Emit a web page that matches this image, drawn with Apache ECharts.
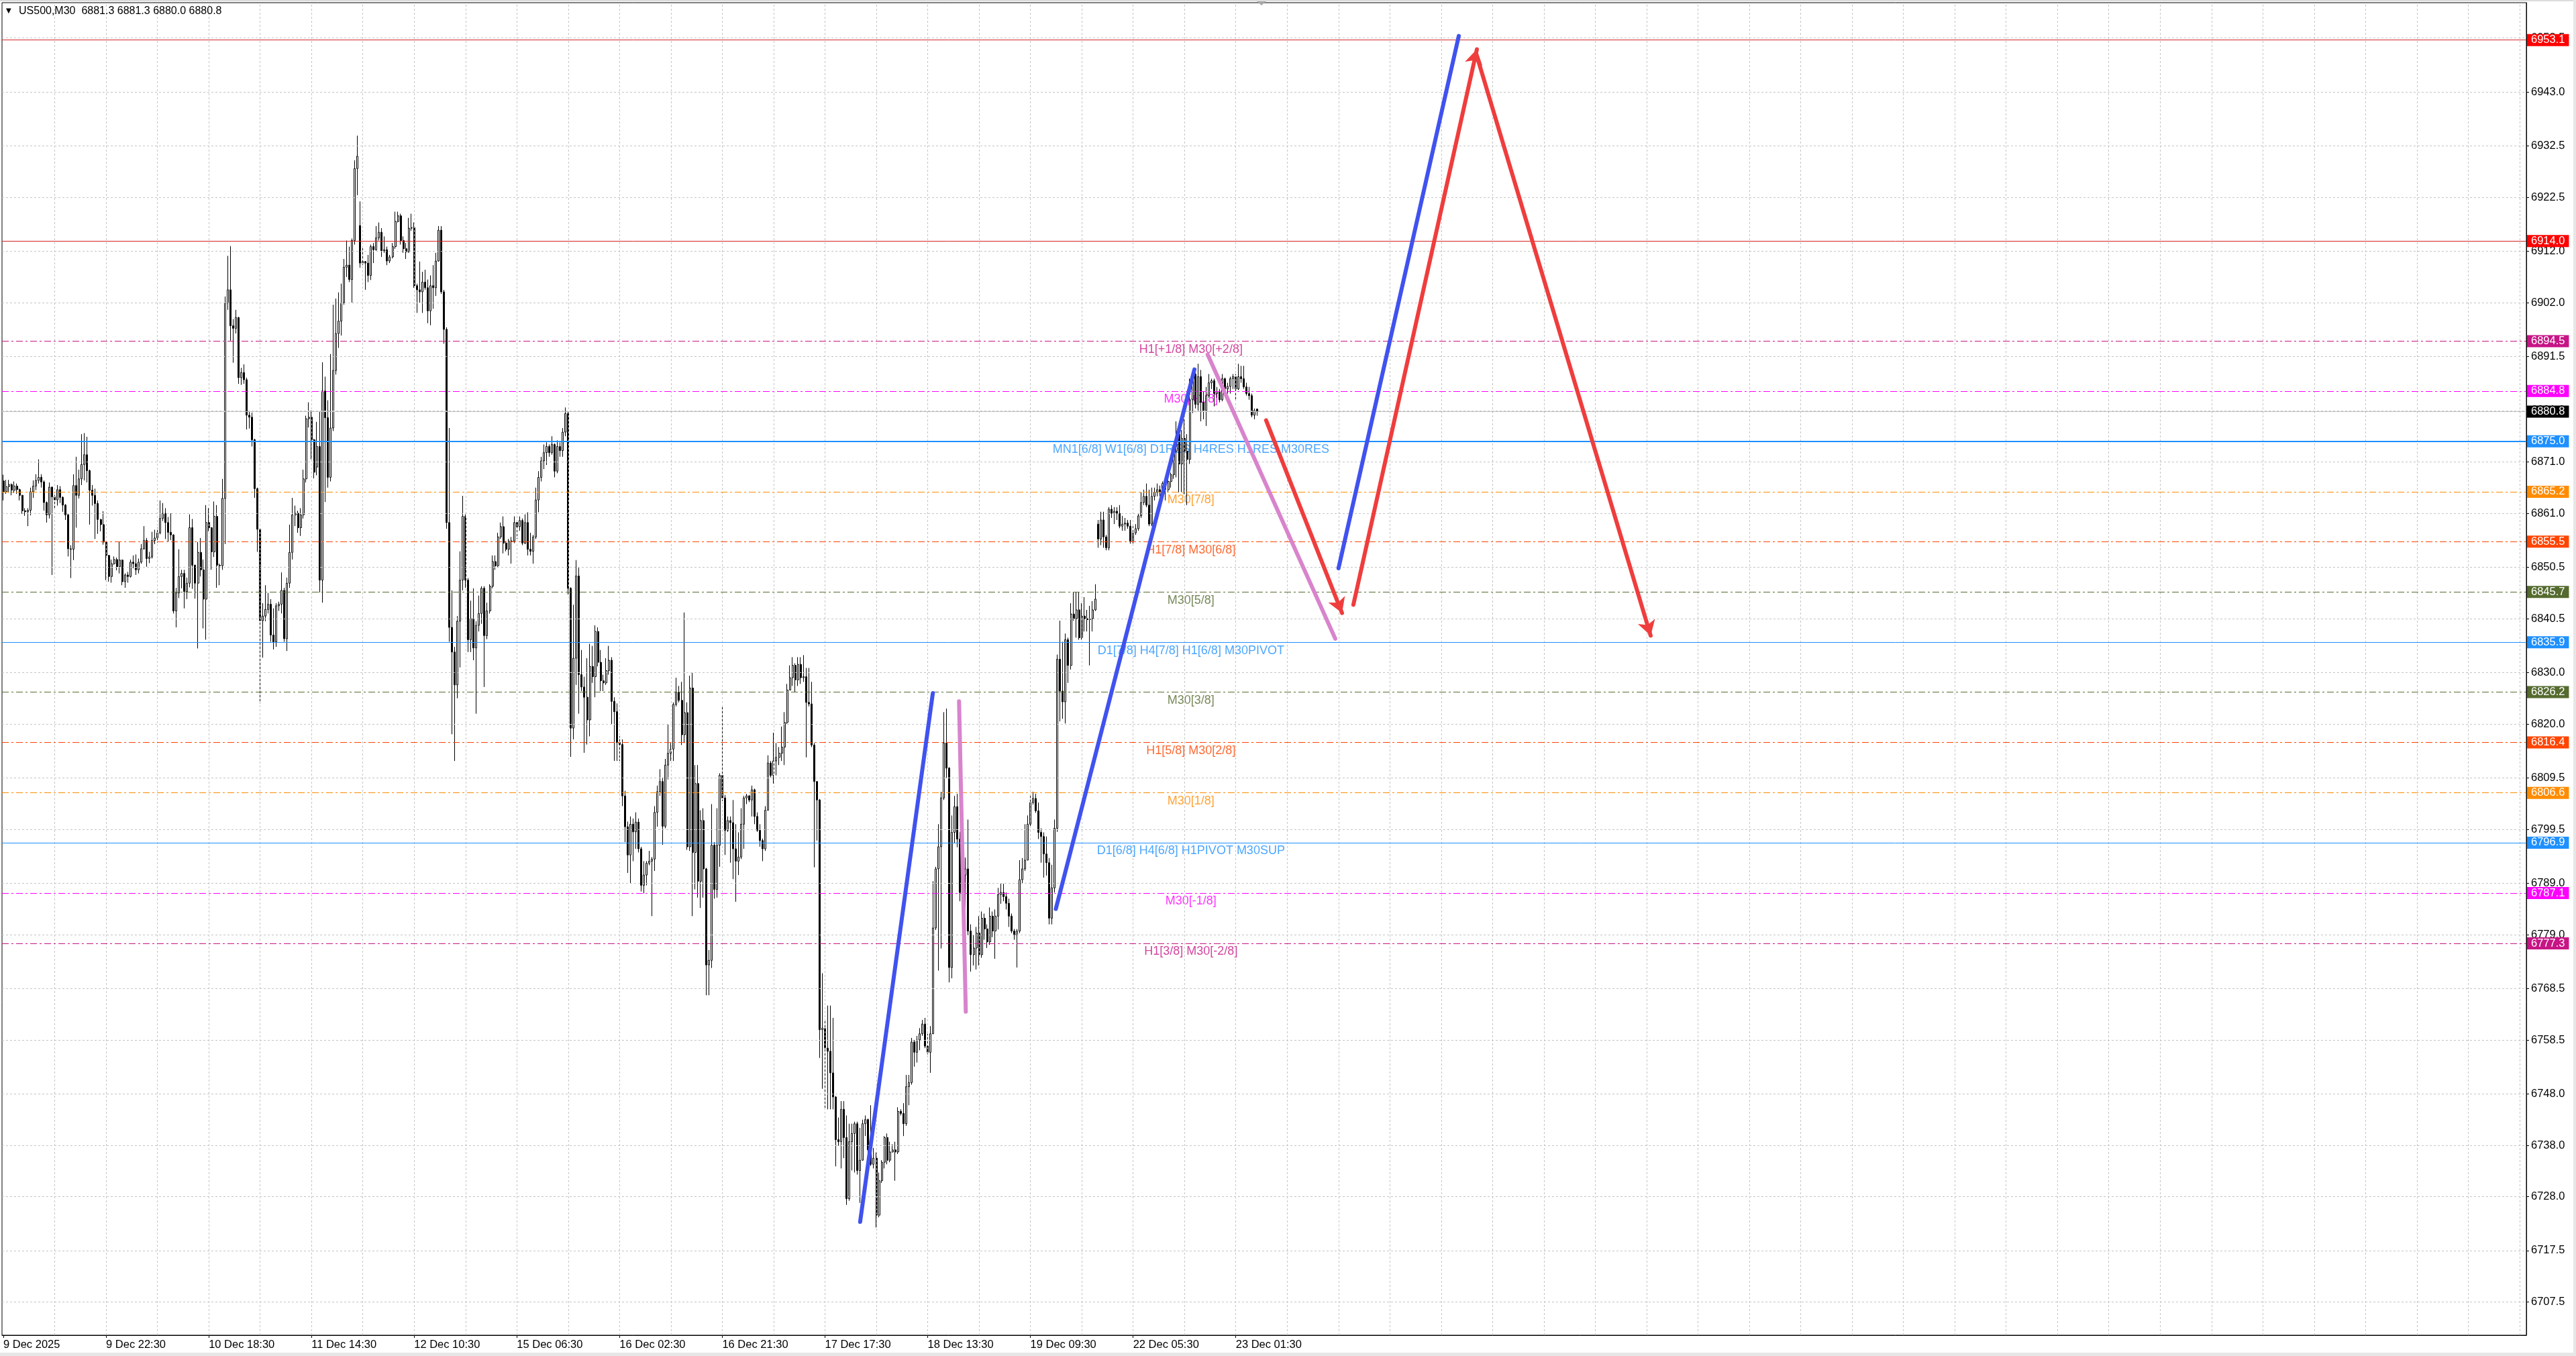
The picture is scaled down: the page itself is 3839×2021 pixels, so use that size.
<!DOCTYPE html>
<html>
<head>
<meta charset="utf-8">
<script src="https://cdn.jsdelivr.net/npm/echarts@6/dist/echarts.min.js"></script>
<style>
html,body{margin:0;padding:0;background:#fff;}
#chart{width:3839px;height:2021px;}
</style>
</head>
<body>
<div id="chart"></div>
<script>
// ---------------- DATA ----------------
const symbolTitle = 'US500,M30  6881.3 6881.3 6880.0 6880.8';

const opens = [
6867.3,6865.2,6866.2,6866.6,6865.5,6866.3,6865.6,6864.5,6861.5,6861.3,
6861.6,6865.2,6866.3,6867.4,6868.0,6867.1,6863.1,6860.7,6866.1,6864.2,
6863.6,6865.6,6864.1,6862.6,6860.7,6854.1,6854.0,6866.4,6864.5,6867.7,
6870.5,6872.4,6869.3,6865.5,6864.5,6862.9,6859.8,6858.8,6855.4,6852.8,
6848.7,6851.2,6852.0,6850.6,6851.9,6847.7,6849.0,6848.7,6851.5,6851.2,
6850.0,6851.5,6854.1,6855.7,6852.2,6852.5,6855.7,6856.2,6857.2,6860.0,
6861.0,6859.2,6857.3,6856.8,6842.0,6845.5,6848.7,6849.3,6845.8,6847.4,
6858.2,6850.9,6847.4,6853.4,6850.0,6844.3,6859.2,6858.2,6853.5,6860.4,
6850.9,6850.8,6863.9,6901.9,6904.5,6897.5,6897.0,6899.1,6887.4,6888.4,
6887.0,6880.1,6879.7,6875.3,6865.8,6857.9,6840.1,6841.0,6842.3,6843.3,
6837.3,6836.0,6843.0,6843.3,6846.0,6836.6,6847.4,6853.4,6860.7,6861.0,
6858.2,6860.7,6867.7,6879.4,6879.7,6875.3,6870.0,6874.0,6848.0,6884.8,
6879.6,6868.0,6877.6,6888.8,6896.0,6898.4,6902.0,6908.9,6909.3,6906.5,
6914.1,6928.1,6917.0,6909.7,6910.0,6909.7,6907.3,6912.9,6912.3,6914.6,
6915.7,6912.1,6912.3,6910.1,6910.9,6912.9,6917.8,6918.9,6914.1,6912.5,
6911.9,6916.5,6916.6,6905.3,6904.5,6904.1,6906.0,6904.9,6900.4,6905.3,
6904.9,6910.1,6916.1,6904.1,6896.8,6859.2,6838.8,6834.0,6827.6,6840.0,
6848.0,6860.4,6848.0,6836.4,6840.5,6834.8,6839.2,6841.5,6846.4,6837.2,
6842.0,6846.8,6851.6,6850.8,6856.4,6858.4,6855.2,6854.0,6855.6,6855.6,
6859.2,6858.4,6859.6,6855.2,6859.2,6854.0,6853.6,6856.4,6863.6,6868.0,
6871.2,6872.8,6874.0,6872.8,6874.4,6869.2,6874.0,6873.2,6876.8,6880.4,
6846.4,6819.2,6832.8,6848.8,6829.6,6827.2,6825.2,6820.8,6831.2,6829.2,
6838.0,6832.0,6828.4,6828.0,6830.4,6832.4,6824.4,6822.4,6816.4,6816.0,
6806.0,6800.0,6794.5,6800.5,6799.0,6800.9,6795.7,6788.6,6790.6,6792.9,
6793.3,6793.7,6802.8,6806.8,6808.8,6800.1,6812.0,6814.3,6815.1,6823.8,
6826.2,6824.6,6817.9,6822.2,6796.1,6827.0,6795.0,6808.4,6789.4,6801.2,
6791.8,6773.1,6774.0,6796.4,6787.8,6796.4,6810.0,6805.6,6799.3,6801.2,
6800.8,6795.7,6793.3,6794.1,6800.5,6805.6,6806.0,6805.2,6807.2,6802.0,
6799.3,6797.3,6795.7,6803.2,6812.4,6810.0,6812.8,6813.5,6814.3,6815.5,
6820.3,6826.6,6829.0,6831.4,6828.6,6831.6,6829.0,6829.2,6824.2,6823.9,
6815.9,6808.8,6805.2,6760.5,6760.8,6756.9,6756.3,6752.1,6747.4,6739.1,
6738.7,6745.0,6739.5,6727.6,6738.7,6740.3,6742.2,6733.1,6735.1,6742.2,
6743.0,6737.1,6734.3,6735.5,6724.4,6731.1,6734.7,6739.5,6735.1,6736.7,
6737.1,6736.7,6744.6,6744.2,6742.2,6749.4,6750.2,6758.1,6756.1,6758.5,
6759.7,6761.6,6757.3,6756.1,6759.7,6780.3,6791.8,6796.1,6805.6,6816.3,
6811.4,6772.6,6798.9,6803.9,6797.6,6787.2,6790.6,6791.8,6779.7,6775.1,
6776.4,6779.3,6775.1,6782.2,6780.1,6777.6,6782.6,6779.7,6782.6,6786.8,
6787.2,6786.4,6785.1,6782.6,6779.7,6778.9,6779.7,6789.7,6791.8,6793.5,
6800.5,6804.7,6805.5,6803.1,6798.9,6798.1,6794.7,6793.0,6782.2,6788.1,
6799.7,6832.6,6826.4,6824.3,6836.4,6831.4,6841.4,6840.5,6842.2,6836.8,
6841.0,6840.5,6840.3,6840.5,6842.2,6858.9,6856.0,6859.7,6856.4,6854.3,
6861.8,6861.0,6861.4,6861.0,6858.5,6858.9,6859.1,6858.5,6855.6,6857.2,
6858.0,6860.5,6863.1,6864.3,6862.6,6858.9,6864.3,6865.1,6865.6,6865.1,
6866.8,6865.6,6867.2,6868.5,6873.1,6876.4,6870.6,6875.6,6873.1,6871.5,
6883.1,6888.1,6882.2,6887.6,6882.6,6881.0,6883.9,6886.4,6886.8,6884.3,
6884.7,6883.1,6887.2,6885.2,6885.7,6887.2,6887.6,6885.2,6887.6,6887.2,
6885.6,6884.3,6883.9,6880.1,6881.3
];
const highs = [
6868.5,6867.5,6867.5,6866.8,6867.2,6866.8,6865.8,6864.6,6862.0,6862.0,
6866.0,6867.4,6868.6,6871.5,6868.6,6867.4,6863.3,6867.0,6866.2,6864.6,
6866.5,6866.3,6864.3,6862.8,6860.9,6854.8,6868.6,6872.0,6869.5,6876.4,
6876.6,6875.9,6869.5,6866.5,6865.8,6863.5,6859.9,6861.4,6855.5,6852.9,
6852.0,6852.6,6852.4,6855.4,6852.0,6849.3,6849.6,6852.0,6852.8,6853.0,
6852.2,6855.0,6858.5,6856.2,6853.5,6857.4,6857.8,6858.2,6863.5,6863.0,
6862.0,6860.3,6861.0,6856.9,6846.5,6854.0,6850.0,6850.0,6848.5,6860.8,
6859.9,6851.0,6855.4,6856.2,6852.0,6862.6,6862.0,6858.3,6863.3,6862.6,
6851.2,6867.7,6903.2,6911.1,6913.0,6898.8,6900.6,6899.2,6889.3,6890.0,
6887.4,6881.0,6880.6,6875.5,6866.0,6858.0,6843.5,6847.0,6845.5,6844.3,
6842.5,6843.5,6843.8,6849.5,6846.5,6848.5,6858.8,6864.0,6862.5,6861.5,
6862.0,6869.5,6880.0,6882.6,6881.0,6875.5,6878.8,6880.8,6890.4,6887.6,
6883.0,6892.0,6901.6,6902.8,6904.0,6905.7,6910.5,6914.1,6912.9,6914.5,
6929.7,6934.5,6921.7,6912.9,6910.1,6911.3,6913.3,6913.6,6916.9,6917.6,
6916.5,6914.9,6912.9,6911.3,6913.6,6919.7,6919.7,6919.3,6914.9,6913.6,
6918.5,6919.3,6917.6,6905.7,6910.0,6908.0,6908.4,6906.5,6907.3,6909.3,
6911.7,6916.9,6916.9,6904.5,6897.2,6877.6,6846.0,6835.0,6841.0,6853.6,
6864.4,6860.8,6848.4,6844.0,6846.4,6840.0,6845.0,6846.8,6846.8,6843.6,
6847.2,6852.8,6852.8,6857.2,6859.2,6860.4,6855.6,6856.0,6856.4,6860.4,
6859.6,6860.4,6860.0,6860.8,6861.2,6857.2,6856.8,6866.0,6869.2,6872.0,
6874.4,6874.8,6874.4,6876.0,6874.6,6875.2,6874.8,6877.6,6881.6,6880.8,
6846.6,6843.2,6851.9,6850.4,6834.4,6829.2,6832.8,6835.6,6835.2,6839.2,
6838.8,6834.4,6829.6,6832.8,6835.2,6833.0,6825.2,6824.0,6817.6,6817.0,
6807.0,6801.0,6802.0,6801.6,6802.8,6801.6,6796.1,6793.3,6793.3,6795.3,
6794.1,6804.0,6808.0,6811.2,6809.6,6813.2,6819.9,6816.3,6824.2,6829.0,
6827.4,6828.2,6841.7,6824.2,6829.4,6830.0,6812.0,6812.0,6803.2,6803.6,
6792.0,6776.0,6804.4,6797.0,6803.6,6810.4,6823.4,6806.2,6802.0,6802.0,
6805.2,6800.5,6798.9,6803.6,6806.0,6806.4,6806.2,6808.0,6807.4,6802.8,
6800.5,6797.7,6804.0,6813.9,6812.8,6818.3,6816.3,6815.5,6819.5,6822.3,
6827.8,6831.4,6833.0,6831.8,6833.0,6833.0,6833.4,6830.9,6830.9,6828.2,
6816.3,6808.9,6805.4,6771.5,6762.4,6765.2,6765.2,6762.8,6747.6,6743.4,
6746.6,6746.6,6743.8,6742.2,6742.2,6742.6,6742.6,6741.4,6743.0,6743.8,
6743.2,6745.8,6737.5,6736.6,6732.7,6735.1,6739.8,6740.3,6738.7,6738.2,
6738.7,6745.4,6745.0,6746.2,6751.7,6751.7,6758.9,6758.5,6759.3,6760.8,
6762.4,6762.8,6759.7,6761.2,6789.4,6792.2,6800.5,6806.8,6822.3,6823.0,
6811.6,6802.2,6806.0,6806.4,6799.0,6796.0,6794.0,6801.4,6781.0,6778.9,
6780.5,6782.6,6783.5,6783.1,6781.0,6784.3,6783.5,6783.9,6788.1,6788.9,
6788.9,6787.2,6786.0,6783.1,6780.1,6780.1,6793.5,6793.9,6800.5,6802.2,
6806.0,6806.8,6806.4,6804.7,6799.7,6798.9,6798.1,6793.9,6792.6,6801.4,
6833.5,6840.1,6836.0,6837.6,6836.8,6843.5,6845.6,6845.6,6845.6,6843.5,
6844.7,6842.2,6843.0,6843.9,6847.2,6859.7,6861.3,6861.3,6856.8,6862.2,
6862.6,6862.2,6862.2,6862.6,6860.5,6860.1,6859.7,6859.7,6858.5,6858.9,
6860.9,6865.1,6865.6,6866.8,6865.6,6866.0,6866.0,6866.8,6866.4,6867.2,
6867.2,6868.5,6868.9,6873.9,6878.9,6876.8,6877.2,6879.3,6876.4,6887.2,
6888.5,6888.5,6890.1,6888.9,6884.7,6885.6,6888.1,6887.2,6887.2,6885.6,
6885.2,6888.1,6887.4,6886.4,6887.6,6888.1,6888.1,6890.1,6889.7,6889.7,
6886.4,6885.6,6884.3,6881.4,6881.3
];
const lows = [
6863.5,6864.8,6865.0,6864.5,6865.0,6864.8,6863.5,6860.9,6860.5,6858.5,
6860.6,6864.0,6865.5,6866.8,6866.0,6861.5,6859.2,6860.0,6849.0,6861.9,
6862.5,6863.0,6861.3,6859.7,6852.6,6848.4,6851.9,6858.2,6863.9,6866.5,
6867.4,6867.0,6858.8,6862.5,6856.0,6857.0,6857.5,6854.9,6848.0,6847.7,
6847.5,6851.0,6849.9,6849.3,6847.0,6846.5,6847.5,6848.5,6850.3,6849.0,
6849.3,6851.2,6853.9,6850.6,6851.3,6852.2,6855.0,6855.3,6856.9,6859.5,
6856.0,6855.4,6855.8,6841.5,6838.8,6844.5,6846.4,6842.5,6844.3,6846.6,
6846.3,6844.4,6834.7,6848.7,6838.6,6836.4,6857.5,6850.0,6852.5,6846.5,
6847.0,6850.0,6855.0,6900.6,6894.6,6890.3,6896.0,6886.2,6886.0,6886.2,
6877.3,6877.5,6874.0,6864.0,6853.5,6824.0,6832.9,6840.0,6841.5,6836.0,
6834.5,6835.0,6842.0,6841.5,6836.0,6834.2,6846.5,6852.0,6858.5,6857.2,
6856.6,6860.0,6867.0,6877.7,6871.5,6867.8,6868.4,6845.6,6843.6,6863.2,
6866.0,6867.2,6877.0,6888.0,6893.2,6895.6,6901.6,6907.0,6906.0,6902.0,
6913.3,6922.9,6908.8,6909.3,6904.5,6906.0,6906.4,6909.7,6912.1,6914.1,
6910.9,6911.7,6909.3,6909.7,6910.6,6912.5,6917.6,6913.3,6911.7,6910.5,
6911.7,6916.0,6904.9,6900.0,6902.0,6900.0,6904.5,6898.0,6897.6,6900.8,
6903.3,6910.0,6903.7,6894.0,6858.0,6836.0,6818.0,6812.8,6825.0,6831.0,
6846.0,6846.5,6834.0,6834.0,6832.4,6822.0,6838.0,6839.5,6827.2,6836.5,
6841.5,6846.4,6850.0,6850.4,6856.0,6853.2,6853.6,6852.8,6851.2,6855.2,
6856.0,6857.6,6854.8,6855.0,6852.8,6852.8,6851.2,6856.0,6861.2,6867.2,
6869.6,6870.4,6872.0,6872.4,6868.0,6868.8,6872.0,6872.0,6876.0,6845.2,
6813.6,6817.0,6827.6,6822.0,6826.4,6814.4,6816.0,6817.6,6828.0,6825.2,
6831.2,6826.4,6826.4,6827.6,6829.6,6820.0,6812.8,6812.8,6812.8,6804.0,
6797.0,6791.0,6789.0,6793.3,6795.7,6795.0,6787.4,6787.0,6788.6,6792.5,
6782.6,6791.4,6800.0,6806.0,6796.5,6799.7,6809.2,6812.8,6812.8,6823.4,
6824.2,6815.9,6816.3,6795.5,6795.3,6782.6,6787.8,6786.2,6784.2,6786.2,
6767.2,6767.2,6772.5,6786.0,6786.2,6792.2,6805.0,6794.5,6799.0,6793.0,
6789.8,6785.4,6790.6,6793.7,6795.7,6804.4,6804.8,6802.0,6800.5,6799.0,
6796.1,6793.3,6795.3,6803.2,6809.6,6808.4,6810.0,6812.0,6812.8,6812.0,
6820.0,6826.6,6827.4,6826.2,6827.4,6827.8,6828.2,6813.5,6823.4,6815.5,
6792.1,6797.3,6755.0,6749.0,6745.0,6745.0,6745.0,6745.0,6733.9,6737.9,
6733.5,6735.5,6726.4,6727.2,6733.1,6732.7,6732.3,6726.8,6735.0,6739.8,
6735.5,6734.0,6733.5,6722.0,6724.0,6730.7,6733.5,6734.3,6734.7,6736.6,
6731.1,6736.3,6743.8,6739.8,6741.8,6745.8,6749.8,6753.3,6754.1,6756.5,
6759.3,6756.9,6755.7,6752.1,6759.7,6779.9,6772.0,6776.3,6805.2,6809.5,
6769.7,6770.5,6796.8,6796.0,6785.5,6784.7,6779.7,6778.9,6771.8,6773.0,
6772.2,6773.0,6774.5,6778.0,6776.4,6777.0,6778.5,6774.3,6780.0,6785.0,
6785.5,6783.9,6780.5,6779.3,6778.0,6772.6,6779.3,6788.9,6791.4,6793.5,
6800.1,6804.3,6802.7,6797.6,6793.0,6790.1,6790.5,6781.0,6781.0,6787.2,
6799.0,6820.5,6821.0,6820.1,6828.0,6830.6,6840.1,6836.8,6836.4,6836.4,
6838.0,6838.0,6831.4,6838.0,6842.0,6854.3,6854.8,6854.3,6853.8,6853.8,
6860.1,6858.9,6859.7,6858.1,6857.6,6857.6,6858.0,6855.1,6855.1,6856.8,
6857.6,6860.1,6862.6,6862.2,6858.5,6858.5,6863.5,6864.3,6864.3,6864.3,
6863.5,6865.2,6866.0,6867.7,6868.0,6865.1,6865.1,6864.7,6862.6,6870.6,
6880.5,6881.4,6881.0,6878.9,6879.3,6878.0,6883.5,6885.2,6881.8,6883.5,
6882.6,6882.8,6884.7,6884.3,6884.3,6885.2,6883.1,6885.0,6886.4,6885.2,
6883.9,6883.1,6879.7,6879.3,6880.0
];
const closes = [
6865.2,6866.2,6866.6,6865.5,6866.3,6865.6,6864.5,6861.5,6861.3,6861.6,
6865.2,6866.3,6867.4,6868.0,6867.1,6863.1,6860.7,6866.1,6864.2,6863.6,
6865.6,6864.1,6862.6,6860.7,6854.1,6854.0,6866.4,6864.5,6867.7,6870.5,
6872.4,6869.3,6865.5,6864.5,6862.9,6859.8,6858.8,6855.4,6852.8,6848.7,
6851.2,6852.0,6850.6,6851.9,6847.7,6849.0,6848.7,6851.5,6851.2,6850.0,
6851.5,6854.1,6855.7,6852.2,6852.5,6855.7,6856.2,6857.2,6860.0,6861.0,
6859.2,6857.3,6856.8,6842.0,6845.5,6848.7,6849.3,6845.8,6847.4,6858.2,
6850.9,6847.4,6853.4,6850.0,6844.3,6859.2,6858.2,6853.5,6860.4,6850.9,
6850.8,6863.9,6901.9,6904.5,6897.5,6897.0,6899.1,6887.4,6888.4,6887.0,
6880.1,6879.7,6875.3,6865.8,6857.9,6840.1,6841.0,6842.3,6843.3,6837.3,
6836.0,6843.0,6843.3,6846.0,6836.6,6847.4,6853.4,6860.7,6861.0,6858.2,
6860.7,6867.7,6879.4,6879.7,6875.3,6869.0,6874.0,6848.0,6884.8,6879.6,
6868.0,6877.6,6888.8,6896.0,6898.4,6902.0,6908.9,6909.3,6906.5,6914.1,
6928.1,6930.5,6909.7,6910.0,6909.7,6907.3,6912.9,6912.3,6914.6,6915.7,
6912.1,6912.3,6910.1,6910.9,6912.9,6917.8,6918.9,6914.1,6912.5,6911.9,
6916.5,6916.6,6905.3,6904.5,6904.1,6906.0,6904.9,6900.4,6905.3,6904.9,
6910.1,6916.1,6904.1,6896.8,6859.2,6838.8,6834.0,6827.6,6840.0,6848.0,
6860.4,6848.0,6836.4,6840.5,6834.8,6839.2,6841.5,6846.4,6837.2,6842.0,
6846.8,6851.6,6850.8,6856.4,6858.4,6855.2,6854.0,6855.6,6855.6,6859.2,
6858.4,6859.6,6855.2,6859.2,6854.0,6853.6,6856.4,6863.6,6868.0,6871.2,
6872.8,6874.0,6872.8,6874.4,6869.2,6874.0,6873.2,6876.8,6880.4,6846.4,
6819.2,6832.8,6848.8,6829.6,6827.2,6825.2,6820.8,6831.2,6829.2,6838.0,
6832.0,6828.4,6828.0,6830.4,6832.4,6824.4,6822.4,6816.4,6816.0,6806.0,
6800.0,6794.5,6800.5,6799.0,6800.9,6795.7,6788.6,6790.6,6792.9,6793.3,
6793.7,6802.8,6806.8,6808.8,6800.1,6812.0,6814.3,6815.1,6823.8,6826.2,
6824.6,6817.9,6822.2,6796.1,6827.0,6795.0,6808.4,6789.4,6801.2,6791.8,
6773.1,6774.0,6796.4,6787.8,6796.4,6810.0,6805.6,6799.3,6801.2,6800.8,
6795.7,6793.3,6794.1,6800.5,6805.6,6806.0,6805.2,6807.2,6802.0,6799.3,
6797.3,6795.7,6803.2,6812.4,6810.0,6812.8,6813.5,6814.3,6815.5,6820.3,
6826.6,6829.0,6831.4,6828.6,6831.6,6829.0,6829.2,6824.2,6823.9,6815.9,
6808.8,6805.2,6760.5,6760.8,6756.9,6756.3,6752.1,6747.4,6739.1,6738.7,
6745.0,6739.5,6727.6,6738.7,6740.3,6742.2,6733.1,6735.1,6742.2,6743.0,
6737.1,6734.3,6735.5,6724.4,6731.1,6734.7,6739.5,6735.1,6736.7,6737.1,
6736.7,6744.6,6744.2,6742.2,6749.4,6750.2,6758.1,6756.1,6758.5,6759.7,
6761.6,6757.3,6756.1,6759.7,6780.3,6791.8,6796.1,6805.6,6816.3,6811.4,
6772.6,6798.9,6803.9,6797.6,6787.2,6790.6,6791.8,6779.7,6775.1,6776.4,
6779.3,6775.1,6782.2,6780.1,6777.6,6782.6,6779.7,6782.6,6786.8,6787.2,
6786.4,6785.1,6782.6,6779.7,6778.9,6779.7,6789.7,6791.8,6793.5,6800.5,
6804.7,6805.5,6803.1,6798.9,6798.1,6794.7,6793.0,6782.2,6788.1,6799.7,
6832.6,6826.4,6824.3,6836.4,6831.4,6841.4,6840.5,6842.2,6836.8,6841.0,
6840.5,6840.3,6840.5,6842.2,6844.3,6856.0,6859.7,6856.4,6854.3,6861.8,
6861.0,6861.4,6861.0,6858.5,6858.9,6859.1,6858.5,6855.6,6857.2,6858.0,
6860.5,6863.1,6864.3,6862.6,6858.9,6864.3,6865.1,6865.6,6865.1,6866.8,
6865.6,6867.2,6868.5,6873.1,6876.4,6870.6,6875.6,6873.1,6871.5,6883.1,
6888.1,6882.2,6887.6,6882.6,6881.0,6883.9,6886.4,6886.8,6884.3,6884.7,
6883.1,6887.2,6885.2,6885.7,6887.2,6887.6,6885.2,6887.6,6887.2,6885.6,
6884.3,6883.9,6880.1,6881.0,6880.8
];

// x-axis tick labels (bar index of each label, label text)
const xTickIdx = [0,38,76,114,152,190,228,266,304,342,380,418,456];
const xTickLabels = ['9 Dec 2025','9 Dec 22:30','10 Dec 18:30','11 Dec 14:30','12 Dec 10:30','15 Dec 06:30','16 Dec 02:30','16 Dec 21:30','17 Dec 17:30','18 Dec 13:30','19 Dec 09:30','22 Dec 05:30','23 Dec 01:30'];

// y-axis tick labels
const yTicks = [6953.5,6943.0,6932.5,6922.5,6912.0,6902.0,6891.5,6881.0,6871.0,6861.0,6850.5,6840.5,6830.0,6820.0,6809.5,6799.5,6789.0,6779.0,6768.5,6758.5,6748.0,6738.0,6728.0,6717.5,6707.5];

// horizontal levels (prices shown in the right-hand tags)
const levelPrices = [6953.1,6914.0,6894.5,6884.8,6880.8,6875.0,6865.2,6855.5,6845.7,6835.9,6826.2,6816.4,6806.6,6796.9,6787.1,6777.3];

// level captions drawn under the lines
const captionPrices = [6894.5,6884.8,6875.0,6865.2,6855.5,6845.7,6835.9,6826.2,6816.4,6806.6,6796.9,6787.1,6777.3];
const captionTexts = ['H1[+1/8] M30[+2/8]','M30[+1/8]','MN1[6/8] W1[6/8] D1RES H4RES H1RES M30RES','M30[7/8]','H1[7/8] M30[6/8]','M30[5/8]','D1[7/8] H4[7/8] H1[6/8] M30PIVOT','M30[3/8]','H1[5/8] M30[2/8]','M30[1/8]','D1[6/8] H4[6/8] H1PIVOT M30SUP','M30[-1/8]','H1[3/8] M30[-2/8]'];

// drawn trend segments: [barIndexFrom, priceFrom, barIndexTo, priceTo]
const blueSegments = [[317.0,6723.1,343.9,6826.0],[389.4,6784.0,440.7,6889.0],[494.0,6850.3,538.5,6953.9]];
const pinkSegments = [[353.6,6824.4,356.1,6764.0],[445.6,6891.9,492.8,6836.6]];
const redArrows = [[467.2,6879.1,495.3,6841.6],[499.5,6843.2,545.2,6951.3],[545.7,6949.1,609.5,6837.2]];

// ---------------- STYLE / LAYOUT ----------------
const FONT = '"Liberation Sans", Arial, sans-serif';
const Y_MIN = 6701.04, Y_MAX = 6960.38;
const X_MIN = -0.5, X_MAX = 933.5;
const CAPTION_X = 439.4;
const DASHDOT = [10,4,3,4];
const LINE_W = 6;
const C = {red:'#ff0000', mvr:'#c71585', mag:'#ff00ff', blue:'#1e90ff', org:'#ff8c00', ored:'#ff4500', olive:'#556b2f', black:'#000000'};
const levelStyle = [
  {tag:C.red, line:'#d42525', w:1, t:'solid'},
  {tag:C.red, line:'#d42525', w:1, t:'solid'},
  {tag:C.mvr, line:C.mvr, w:1, t:DASHDOT},
  {tag:C.mag, line:C.mag, w:1, t:DASHDOT},
  {tag:C.black, line:'#c0c0c0', w:1, t:'solid'},
  {tag:C.blue, line:C.blue, w:2, t:'solid'},
  {tag:C.org, line:C.org, w:1, t:DASHDOT},
  {tag:C.ored, line:C.ored, w:1, t:DASHDOT},
  {tag:C.olive, line:C.olive, w:1, t:DASHDOT},
  {tag:C.blue, line:C.blue, w:1, t:'solid'},
  {tag:C.olive, line:C.olive, w:1, t:DASHDOT},
  {tag:C.ored, line:C.ored, w:1, t:DASHDOT},
  {tag:C.org, line:C.org, w:1, t:DASHDOT},
  {tag:C.blue, line:C.blue, w:1, t:'solid'},
  {tag:C.mag, line:C.mag, w:1, t:DASHDOT},
  {tag:C.mvr, line:C.mvr, w:1, t:DASHDOT}
];
const captionColors = [C.mvr,C.mag,C.blue,C.org,C.ored,C.olive,C.blue,C.olive,C.ored,C.org,C.blue,C.mag,C.mvr];

const candleData = opens.map((o,k) => [k, o, closes[k], lows[k], highs[k]]);

const gridLines = [];
for (let v = 19; v < X_MAX; v += 19) gridLines.push({xAxis: v});
yTicks.forEach(v => gridLines.push({yAxis: v}));

const levelLines = levelPrices.map((p,k) => ({
  yAxis: p,
  lineStyle: {color: levelStyle[k].line, width: levelStyle[k].w, type: levelStyle[k].t},
  label: {show:true, position:'end', distance:1, formatter: p.toFixed(1), color:'#fff',
          backgroundColor: levelStyle[k].tag, padding:[1,6,1,6], fontSize:16.5, lineHeight:16, fontFamily: FONT}
}));

function segSeries(list, color, arrow){
  return {
    type:'line', data:[], z:5, silent:true,
    markLine:{
      silent:true, animation:false, emphasis:{disabled:true}, label:{show:false},
      symbol:['none', arrow ? 'arrow' : 'none'], symbolSize: arrow ? [20,22] : 0,
      lineStyle:{color: color, width: LINE_W, type:'solid', cap:'round', opacity:1},
      data: list.map(s => [{coord:[s[0], s[1]]}, {coord:[s[2], s[3]]}])
    }
  };
}

const chart = echarts.init(document.getElementById('chart'), null, {renderer:'canvas'});
chart.setOption({
  animation: false,
  backgroundColor: '#ffffff',
  grid: {left:3, right:74, top:4, bottom:31, show:true, borderColor:'#000', borderWidth:1, backgroundColor:'transparent'},
  xAxis: {
    type:'value', min:X_MIN, max:X_MAX, position:'bottom',
    axisLine:{show:true, onZero:false, lineStyle:{color:'#000', width:1}},
    axisTick:{show:true, customValues:xTickIdx, length:4, lineStyle:{color:'#000'}},
    axisLabel:{show:true, customValues:xTickIdx, formatter: v => xTickLabels[xTickIdx.indexOf(Math.round(v))] || '',
      align:'left', margin:6, color:'#000', fontSize:16.5, fontFamily:FONT},
    splitLine:{show:false}
  },
  yAxis: {
    type:'value', min:Y_MIN, max:Y_MAX, position:'right', scale:true,
    axisLine:{show:true, onZero:false, lineStyle:{color:'#000', width:1}},
    axisTick:{show:true, customValues:yTicks, length:4, lineStyle:{color:'#000'}},
    axisLabel:{show:true, customValues:yTicks, formatter: v => v.toFixed(1), margin:7, color:'#000', fontSize:16.5, fontFamily:FONT},
    splitLine:{show:false}
  },
  graphic: [
    {type:'rect', left:0, top:0, shape:{width:3839, height:2}, style:{fill:'#dcdcdc'}, z:100},
    {type:'rect', left:3835, top:0, shape:{width:4, height:2021}, style:{fill:'#e6e6e6'}, z:100},
    {type:'rect', left:0, top:2016, shape:{width:3839, height:5}, style:{fill:'#e6e6e6'}, z:100},
    {type:'text', left:9, top:11, style:{text:'▼', font:'10px "DejaVu Sans"', fill:'#000'}, z:100},
    {type:'text', left:28, top:9, style:{text:symbolTitle, font:'16px "Liberation Sans"', fill:'#000'}, z:100},
    {type:'polygon', shape:{points:[[1873,2],[1887,2],[1880,8]]}, style:{fill:'#a8a8a8'}, z:100}
  ],
  series: [
    {type:'line', data:[], z:1, silent:true,
     markLine:{silent:true, symbol:['none','none'], label:{show:false}, animation:false,
       lineStyle:{color:'#c4c4c4', width:1, type:[3,3]}, emphasis:{disabled:true}, data: gridLines}},
    {type:'line', data:[], z:2, silent:true,
     markLine:{silent:true, symbol:['none','none'], animation:false, emphasis:{disabled:true}, data: levelLines}},
    {type:'scatter', z:2, silent:true, symbolSize:1, itemStyle:{color:'rgba(0,0,0,0)'},
     data: captionPrices.map((p,k) => ({value:[CAPTION_X, p], label:{color: captionColors[k]}})),
     label:{show:true, position:'bottom', distance:3, formatter: prm => captionTexts[prm.dataIndex], fontSize:18, fontFamily:FONT}},
    {type:'candlestick', z:3, silent:true, barWidth:2.5, encode:{x:0, y:[1,2,3,4]},
     itemStyle:{color:'#ffffff', color0:'#000000', borderColor:'#000000', borderColor0:'#000000', borderWidth:1},
     data: candleData},
    segSeries(blueSegments, '#4052ee', false),
    segSeries(pinkSegments, '#d884cc', false),
    segSeries(redArrows, '#ef3d3d', true)
  ]
});
</script>
</body>
</html>
